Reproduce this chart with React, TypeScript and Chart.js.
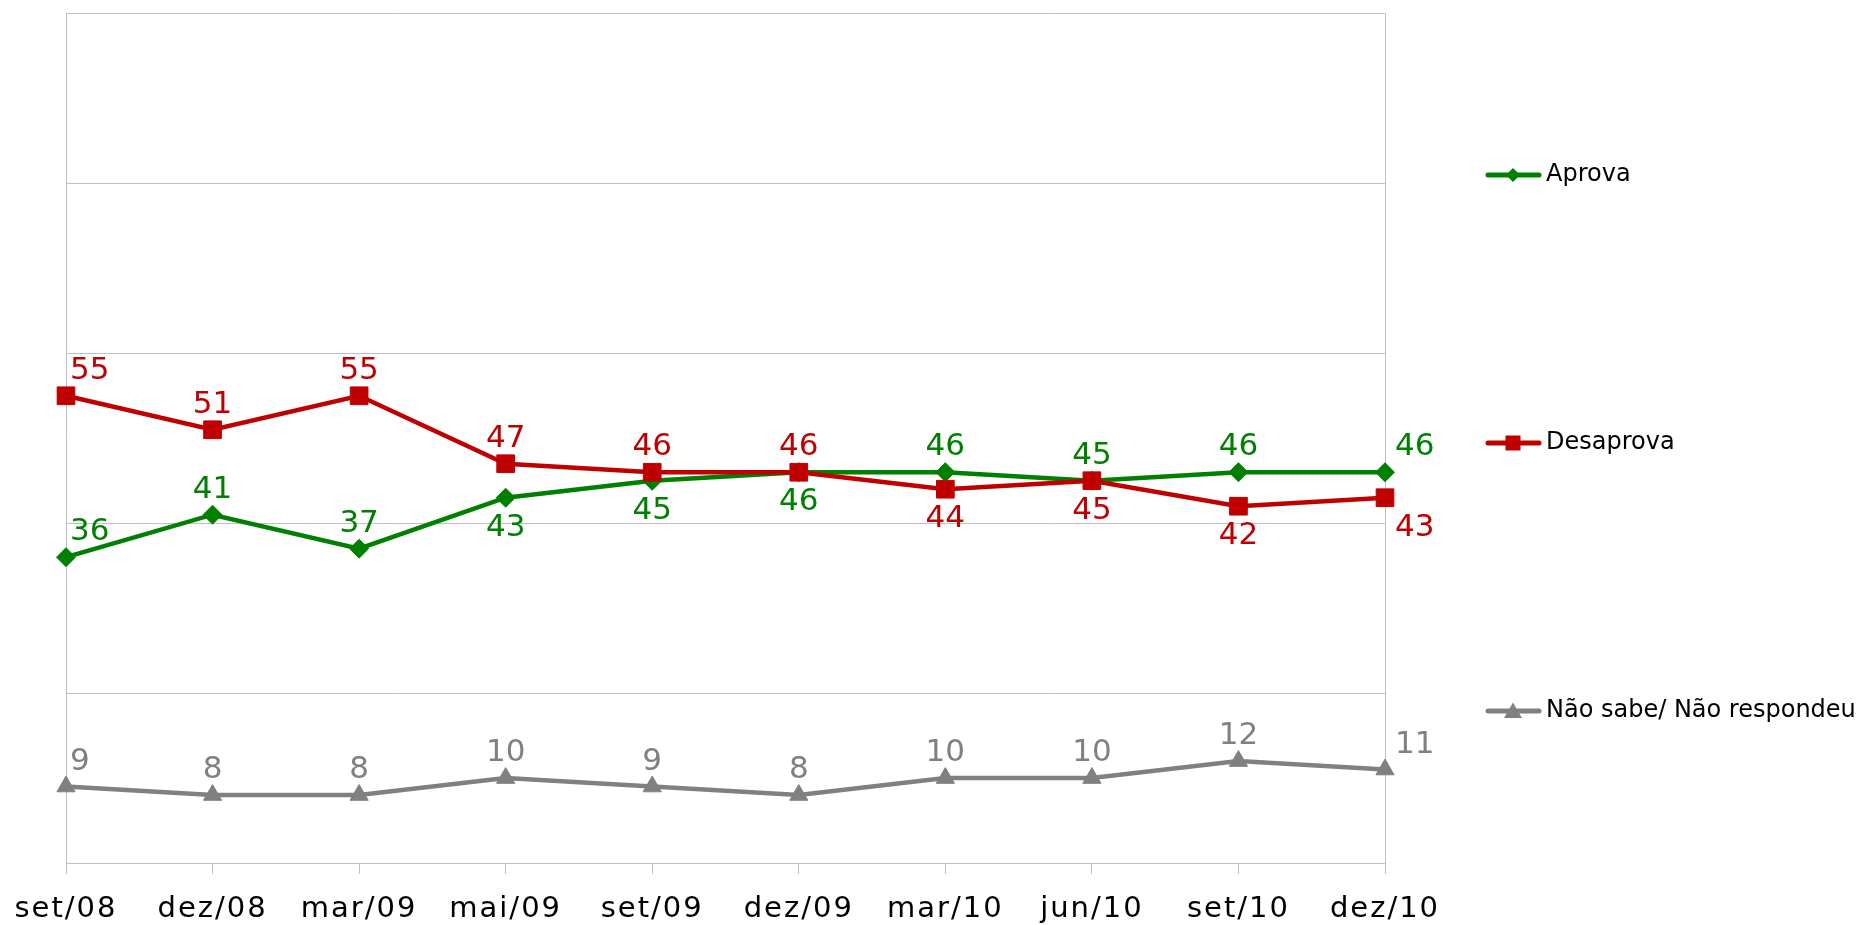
import React, { useEffect, useRef } from 'react';
import { Chart, registerables } from 'chart.js';

Chart.register(...registerables);

const categories = ['set/08', 'dez/08', 'mar/09', 'mai/09', 'set/09', 'dez/09', 'mar/10', 'jun/10', 'set/10', 'dez/10'];
const aprova = [36, 41, 37, 43, 45, 46, 46, 45, 46, 46];
const desaprova = [55, 51, 55, 47, 46, 46, 44, 45, 42, 43];
const naoSabe = [9, 8, 8, 10, 9, 8, 10, 10, 12, 11];
const seriesNames = ['Aprova', 'Desaprova', 'Não sabe/ Não respondeu'];
const seriesColors = ['#008000', '#c00000', '#808080'];
const seriesMarkers = ['rectRot', 'rect', 'triangle'];

// label placement (style): above / below each point
const aprovaLabelPos = ['above', 'above', 'above', 'below', 'below', 'below', 'above', 'above', 'above', 'above'];
const desaprovaLabelPos = ['above', 'above', 'above', 'above', 'above', 'above', 'below', 'below', 'below', 'below'];
const naoSabeLabelPos = ['above', 'above', 'above', 'above', 'above', 'above', 'above', 'above', 'above', 'above'];
const labelPositions = [aprovaLabelPos, desaprovaLabelPos, naoSabeLabelPos];

const FONT = '"DejaVu Sans", Verdana, sans-serif';

function drawMarker(ctx: CanvasRenderingContext2D, kind: string, x: number, y: number, r: number, color: string) {
  ctx.save();
  ctx.fillStyle = color;
  ctx.beginPath();
  if (kind === 'rectRot') {
    ctx.moveTo(x, y - r);
    ctx.lineTo(x + r, y);
    ctx.lineTo(x, y + r);
    ctx.lineTo(x - r, y);
  } else if (kind === 'rect') {
    ctx.rect(x - r, y - r, 2 * r, 2 * r);
  } else {
    const h = r * Math.sqrt(3);
    ctx.moveTo(x, y - h * 0.55);
    ctx.lineTo(x + r, y + h * 0.45);
    ctx.lineTo(x - r, y + h * 0.45);
  }
  ctx.closePath();
  ctx.fill();
  ctx.restore();
}

const letterSpacingPlugin = {
  id: 'tickSpacing',
  beforeDraw(chart: any) {
    (chart.ctx as any).letterSpacing = '2px';
  },
  beforeDatasetsDraw(chart: any) {
    (chart.ctx as any).letterSpacing = '0px';
  },
};

const valueLabelPlugin = {
  id: 'valueLabels',
  afterDatasetsDraw(chart: any) {
    const ctx: CanvasRenderingContext2D = chart.ctx;
    ctx.save();
    (ctx as any).letterSpacing = '0px';
    ctx.font = `31px ${FONT}`;
    ctx.textBaseline = 'middle';
    chart.data.datasets.forEach((ds: any, di: number) => {
      const meta = chart.getDatasetMeta(di);
      const pos = labelPositions[di];
      const n = meta.data.length;
      meta.data.forEach((pt: any, i: number) => {
        let x = pt.x;
        const y = pt.y + (pos[i] === 'below' ? 30 : -25);
        if (i === 0) {
          ctx.textAlign = 'left';
          x += 4;
        } else if (i === n - 1) {
          ctx.textAlign = 'left';
          x += 10;
        } else {
          ctx.textAlign = 'center';
        }
        ctx.fillStyle = seriesColors[di];
        ctx.fillText(String(ds.data[i]), x, y);
      });
    });
    ctx.restore();
  },
};

const legendPlugin = {
  id: 'sideLegend',
  afterDraw(chart: any) {
    const ctx: CanvasRenderingContext2D = chart.ctx;
    const ys = [175, 443, 711];
    const markerR = [7, 7.5, 9];
    ctx.save();
    (ctx as any).letterSpacing = '0px';
    seriesNames.forEach((name, i) => {
      const y = ys[i];
      ctx.strokeStyle = seriesColors[i];
      ctx.lineWidth = 5;
      ctx.lineCap = 'round';
      ctx.beginPath();
      ctx.moveTo(1488, y);
      ctx.lineTo(1539, y);
      ctx.stroke();
      drawMarker(ctx, seriesMarkers[i], 1513, y, markerR[i], seriesColors[i]);
      ctx.fillStyle = '#000';
      ctx.font = `24px ${FONT}`;
      ctx.textAlign = 'left';
      ctx.textBaseline = 'middle';
      ctx.fillText(name, 1546, y);
    });
    ctx.restore();
  },
};

export default function App() {
  const canvasRef = useRef<HTMLCanvasElement | null>(null);

  useEffect(() => {
    if (!canvasRef.current) return;
    const series = [aprova, desaprova, naoSabe];
    const radii = [9.5, 12.5, 10.5];
    const orders = [1, 0, 2];
    const chart = new Chart(canvasRef.current, {
      type: 'line',
      data: {
        labels: categories,
        datasets: series.map((d, i) => ({
          label: seriesNames[i],
          data: d,
          borderColor: seriesColors[i],
          backgroundColor: seriesColors[i],
          borderWidth: 4.5,
          pointStyle: seriesMarkers[i] as any,
          pointRadius: radii[i],
          pointBorderWidth: 1,
          pointBackgroundColor: seriesColors[i],
          pointBorderColor: seriesColors[i],
          tension: 0,
          fill: false,
          clip: false as any,
          order: orders[i],
        })),
      },
      options: {
        responsive: true,
        maintainAspectRatio: false,
        animation: false,
        layout: { padding: { left: 66, top: 12, right: 485, bottom: 0 } },
        plugins: {
          legend: { display: false },
          tooltip: { enabled: false },
        },
        scales: {
          x: {
            offset: false,
            grid: {
              color: (c: any) => (c.index === 0 || c.index === categories.length - 1 ? '#c0c0c0' : 'rgba(0,0,0,0)'),
              tickColor: '#c0c0c0',
              tickLength: 11,
              lineWidth: 1,
            },
            border: { color: '#c0c0c0' },
            ticks: {
              font: { family: FONT, size: 29 },
              color: '#000',
              padding: 18,
              maxRotation: 0,
              autoSkip: false,
            },
            afterFit: (s: any) => {
              s.height = 62;
            },
          },
          y: {
            min: 0,
            max: 100,
            ticks: { display: false, stepSize: 20 },
            grid: { color: '#c0c0c0', drawTicks: false, lineWidth: 1 },
            border: { color: '#c0c0c0' },
            afterFit: (s: any) => {
              s.width = 0;
            },
          },
        },
      },
      plugins: [letterSpacingPlugin, valueLabelPlugin, legendPlugin],
    });
    return () => chart.destroy();
  }, []);

  return (
    <div style={{ position: 'fixed', left: 0, top: 0, width: 1870, height: 925, background: '#fff' }}>
      <canvas ref={canvasRef} />
    </div>
  );
}
